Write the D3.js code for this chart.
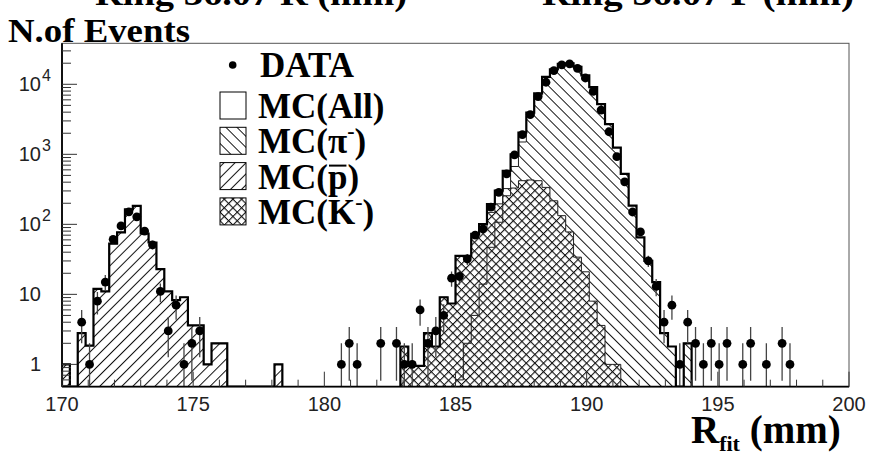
<!DOCTYPE html>
<html>
<head>
<meta charset="utf-8">
<script src="https://cdn.jsdelivr.net/npm/d3@7"></script>
<style>
  body { margin: 0; background: #fff; }
  svg { display: block; }
</style>
</head>
<body>
<div id="chart"></div>
<script>
// histogram binning: 100 bins of 0.3 mm from 170 to 200
const rMin = 170, rMax = 200, binW = 0.3;

// MC(p-bar) histogram, bins 0..27
const protonStart = 0;
const protonVals = [1, 0, 2.8, 1.85, 12, 11, 53, 77, 164, 183, 74, 55, 23, 11, 8.3, 9.1, 3.6, 3.6, 1, 2, 2, 0, 0, 0, 0, 0, 0, 1];

// MC(pi-) histogram, bins 43..79
const pionStart = 43;
const pionVals = [0, 0, 0, 0, 0, 0, 0, 0.6, 2, 5, 14, 47, 107, 324, 670, 1500, 3520, 6980, 12460, 16180,
  19470, 19820, 17670, 13380, 9090, 5200, 2700, 1250, 525, 185, 65, 30, 15, 2.8, 1.8, 0, 2];

// MC(K-) histogram, bins 43..70
const kaonStart = 43;
const kaonVals = [1.8, 0.95, 0.95, 2.8, 1.8, 9.1, 7.4, 35, 33.5, 68, 87, 148, 196, 256, 330, 420, 430, 420,
  337, 217, 133, 78, 34, 21, 8, 3.6, 1, 1];

// MC(All) outline, two pieces
const allStartA = 0;
const allValsA = [1, 0, 2.8, 1.85, 12, 11, 53, 77, 164, 183, 74, 55, 23, 11, 8.3, 9.1, 3.6, 3.6, 1, 2, 2, 0, 0, 0, 0, 0, 0, 1];
const allStartB = 43;
const allValsB = [1.8, 0.95, 0.95, 2.8, 1.8, 9.1, 7.4, 35.5, 35.5, 73, 101, 195, 303, 580, 1000, 2050, 3950, 7400,
  12800, 16400, 19600, 19900, 17700, 13400, 9100, 5200, 2700, 1250, 525, 185, 65, 30, 15, 2.8, 1.8, 0, 2];

// DATA: bin index and counts
const dataBins = [2, 3, 4, 5, 6, 7, 8, 9, 10, 11, 12, 13, 14, 15, 16, 17,
  35, 36, 37, 40, 42, 43, 44, 45, 46, 47, 48, 49, 50, 51, 52, 53, 54, 55, 56, 57, 58, 59, 60,
  61, 62, 63, 64, 65, 66, 67, 68, 69, 70, 71, 72, 73, 74, 75, 76, 77, 78, 79, 80, 81, 82, 83,
  84, 86, 87, 89, 91, 92];
const dataCounts = [4, 1, 8, 15, 61, 95, 151, 128, 80, 51, 11, 3, 7, 1, 2, 3,
  1, 2, 1, 2, 2, 1, 1, 6, 2, 3, 5, 17, 18, 32, 70, 86, 176, 286, 525, 980, 1910, 3690, 6680,
  10700, 15700, 19000, 19600, 16900, 12300, 7900, 4280, 2100, 925, 405, 150, 78, 30, 13, 4, 7, 1, 4, 2, 1, 2, 1,
  2, 1, 2, 1, 2, 1];

const xTicksMajor = [170, 175, 180, 185, 190, 195, 200];
const yTicksMajor = [1, 10, 100, 1000, 10000];
const yTickBase = ['1', '10', '10', '10', '10'];
const yTickSup = ['', '', '2', '3', '4'];
const legendNames = ['All', 'π', 'p', 'K'];

// initialization
const width = 870, height = 453;
const plot = {left: 62, right: 849, top: 43.3, bottom: 386.7};
const yMin = 0.48, yMax = 38500;

const serif = '"Liberation Serif", "Times New Roman", serif';
const sans = '"Liberation Sans", Arial, Helvetica, sans-serif';

const svg = d3.select('#chart').append('svg')
    .attr('width', width)
    .attr('height', height);

const x = d3.scaleLinear().domain([rMin, rMax]).range([plot.left, plot.right]);
const y = d3.scaleLog().domain([yMin, yMax]).range([plot.bottom, plot.top]);

// hatch patterns
const defs = svg.append('defs');
function hatch(id, size, angle, lines, sw) {
    const p = defs.append('pattern')
        .attr('id', id)
        .attr('patternUnits', 'userSpaceOnUse')
        .attr('width', size).attr('height', size)
        .attr('patternTransform', 'rotate(' + angle + ')');
    lines.forEach(dir => {
        if (dir === 'h') p.append('line').attr('x1', 0).attr('x2', size).attr('y1', 0.5).attr('y2', 0.5);
        else p.append('line').attr('y1', 0).attr('y2', size).attr('x1', 0.5).attr('x2', 0.5);
    });
    p.selectAll('line').attr('stroke', '#111').attr('stroke-width', sw);
}
hatch('hPi', 7.8, 45, ['h'], 1);
hatch('hP', 7.8, 45, ['v'], 1);
hatch('hK', 6.1, 45, ['h', 'v'], 1.2);

defs.append('clipPath').attr('id', 'plotClip')
  .append('rect')
    .attr('x', plot.left).attr('y', plot.top)
    .attr('width', plot.right - plot.left).attr('height', plot.bottom - plot.top);

// histogram helpers
function stepPoints(start, vals) {
    const pts = [{r: rMin + binW * start, v: 0}];
    vals.forEach((v, i) => pts.push({r: rMin + binW * (start + i), v: v}));
    const rEnd = rMin + binW * (start + vals.length);
    pts.push({r: rEnd, v: vals[vals.length - 1]});
    pts.push({r: rEnd, v: 0});
    return pts;
}
const yv = v => y(Math.max(v, yMin));
const area = d3.area().curve(d3.curveStepAfter)
    .x(d => x(d.r)).y0(plot.bottom).y1(d => yv(d.v));
const line = d3.line().curve(d3.curveStepAfter)
    .x(d => x(d.r)).y(d => yv(d.v));

const g = svg.append('g').attr('clip-path', 'url(#plotClip)');

// pion hatch
g.append('path').datum(stepPoints(pionStart, pionVals))
    .attr('d', area).attr('fill', 'url(#hPi)');
// kaon: white under crosshatch
g.append('path').datum(stepPoints(kaonStart, kaonVals))
    .attr('d', area).attr('fill', '#fff');
g.append('path').datum(stepPoints(kaonStart, kaonVals))
    .attr('d', area).attr('fill', 'url(#hK)');
// proton hatch
g.append('path').datum(stepPoints(protonStart, protonVals))
    .attr('d', area).attr('fill', 'url(#hP)');

// thin outlines
[[pionStart, pionVals], [kaonStart, kaonVals], [protonStart, protonVals]].forEach(s => {
    g.append('path').datum(stepPoints(s[0], s[1]))
        .attr('d', line).attr('fill', 'none')
        .attr('stroke', '#222').attr('stroke-width', 1);
});

// MC(All) thick outline
[[allStartA, allValsA], [allStartB, allValsB]].forEach(s => {
    g.append('path').datum(stepPoints(s[0], s[1]))
        .attr('d', line).attr('fill', 'none')
        .attr('stroke', '#000').attr('stroke-width', 2.2);
});

// data points with sqrt(N) errors
const pts = dataBins.map((b, i) => ({r: rMin + binW * (b + 0.5), n: dataCounts[i]}));
g.selectAll('.err').data(pts).enter().append('line')
    .attr('class', 'err')
    .attr('x1', d => x(d.r)).attr('x2', d => x(d.r))
    .attr('y1', d => yv(d.n - Math.sqrt(d.n)))
    .attr('y2', d => yv(d.n + Math.sqrt(d.n)))
    .attr('stroke', '#444').attr('stroke-width', 1.3);
g.selectAll('.pt').data(pts).enter().append('circle')
    .attr('class', 'pt')
    .attr('cx', d => x(d.r)).attr('cy', d => y(d.n))
    .attr('r', 4.4).attr('fill', '#000');

// frame
svg.append('rect')
    .attr('x', plot.left).attr('y', plot.top)
    .attr('width', plot.right - plot.left).attr('height', plot.bottom - plot.top)
    .attr('fill', 'none').attr('stroke', '#555').attr('stroke-width', 1);
svg.append('line')
    .attr('x1', plot.left).attr('x2', plot.left).attr('y1', plot.top).attr('y2', plot.bottom)
    .attr('stroke', '#000').attr('stroke-width', 1.8);
svg.append('line')
    .attr('x1', plot.left).attr('x2', plot.right).attr('y1', plot.bottom).attr('y2', plot.bottom)
    .attr('stroke', '#000').attr('stroke-width', 1.8);

// x ticks
const xMinor = d3.range(rMin, rMax + 1, 1);
svg.selectAll('.xt').data(xMinor).enter().append('line')
    .attr('x1', d => x(d)).attr('x2', d => x(d))
    .attr('y1', plot.bottom)
    .attr('y2', d => plot.bottom - (d % 5 === 0 ? 15 : 7))
    .attr('stroke', '#333').attr('stroke-width', 1);
svg.selectAll('.xl').data(xTicksMajor).enter().append('text')
    .attr('x', d => x(d)).attr('y', 411)
    .attr('text-anchor', 'middle')
    .attr('font-family', sans).attr('font-size', 20).attr('fill', '#222')
    .text(d => d);

// y ticks
const yMinor = [];
[0.1, 1, 10, 100, 1000, 10000].forEach(dec => {
    for (let k = 2; k <= 9; k++) if (dec * k >= yMin && dec * k <= yMax) yMinor.push(dec * k);
});
svg.selectAll('.ytm').data(yMinor).enter().append('line')
    .attr('x1', plot.left).attr('x2', plot.left + 9)
    .attr('y1', d => y(d)).attr('y2', d => y(d))
    .attr('stroke', '#333').attr('stroke-width', 1);
svg.selectAll('.ytM').data(yTicksMajor).enter().append('line')
    .attr('x1', plot.left).attr('x2', plot.left + 15)
    .attr('y1', d => y(d)).attr('y2', d => y(d))
    .attr('stroke', '#333').attr('stroke-width', 1);
yTicksMajor.forEach((v, i) => {
    svg.append('text')
        .attr('x', 41).attr('y', y(v) + 7)
        .attr('text-anchor', 'end')
        .attr('font-family', sans).attr('font-size', 20).attr('fill', '#222')
        .text(yTickBase[i]);
    if (yTickSup[i]) {
        svg.append('text')
            .attr('x', 42).attr('y', y(v) - 3)
            .attr('font-family', sans).attr('font-size', 16).attr('fill', '#222')
            .text(yTickSup[i]);
    }
});

// titles
svg.append('text')
    .attr('x', 8).attr('y', 42)
    .attr('font-family', serif).attr('font-weight', 'bold').attr('font-size', 33)
    .attr('textLength', 182).attr('lengthAdjust', 'spacingAndGlyphs')
    .text('N.of Events');
svg.append('text')
    .attr('x', 95).attr('y', 5)
    .attr('font-family', serif).attr('font-weight', 'bold').attr('font-size', 33)
    .attr('textLength', 312).attr('lengthAdjust', 'spacingAndGlyphs')
    .text('Ring 36.07 R (mm)');
svg.append('text')
    .attr('x', 542).attr('y', 5)
    .attr('font-family', serif).attr('font-weight', 'bold').attr('font-size', 33)
    .attr('textLength', 312).attr('lengthAdjust', 'spacingAndGlyphs')
    .text('Ring 36.07 P (mm)');

const xt = svg.append('text')
    .attr('x', 691).attr('y', 443)
    .attr('font-family', serif).attr('font-weight', 'bold').attr('font-size', 39);
xt.append('tspan').text('R');
xt.append('tspan').attr('font-size', 22).attr('dy', 8).text('fit');
xt.append('tspan').attr('dy', -8).text(' (mm)');

// legend
const lg = svg.append('g');
const lgFont = 35;
lg.append('circle').attr('cx', 232.7).attr('cy', 65).attr('r', 3.8).attr('fill', '#000');
lg.append('text')
    .attr('x', 260).attr('y', 77)
    .attr('font-family', serif).attr('font-weight', 'bold').attr('font-size', lgFont)
    .text('DATA');
const fills = ['#fff', 'url(#hPi)', 'url(#hP)', 'url(#hK)'];
legendNames.forEach((name, i) => {
    const yy = 92 + i * 35.3;
    lg.append('rect').attr('x', 220).attr('y', yy).attr('width', 26).attr('height', 27)
        .attr('fill', '#fff');
    lg.append('rect').attr('x', 220).attr('y', yy).attr('width', 26).attr('height', 27)
        .attr('fill', fills[i]).attr('stroke', '#000').attr('stroke-width', 1);
    const t = lg.append('text')
        .attr('x', 258).attr('y', yy + 26)
        .attr('font-family', serif).attr('font-weight', 'bold').attr('font-size', lgFont);
    t.append('tspan').text('MC(');
    t.append('tspan').text(name);
    if (name === 'π' || name === 'K') {
        // small superscript minus
        t.append('tspan').attr('font-size', 22).attr('dy', -15).text('-');
        t.append('tspan').attr('dy', 15).text(')');
    } else {
        t.append('tspan').text(')');
    }
    if (name === 'p') {
        // anti-proton bar over the p
        const n = t.node();
        const x0 = n.getStartPositionOfChar(3).x, x1 = n.getEndPositionOfChar(3).x;
        lg.append('line')
            .attr('x1', x0 + 1).attr('x2', x1 - 1)
            .attr('y1', yy + 3).attr('y2', yy + 3)
            .attr('stroke', '#000').attr('stroke-width', 2);
    }
});
</script>
</body>
</html>
